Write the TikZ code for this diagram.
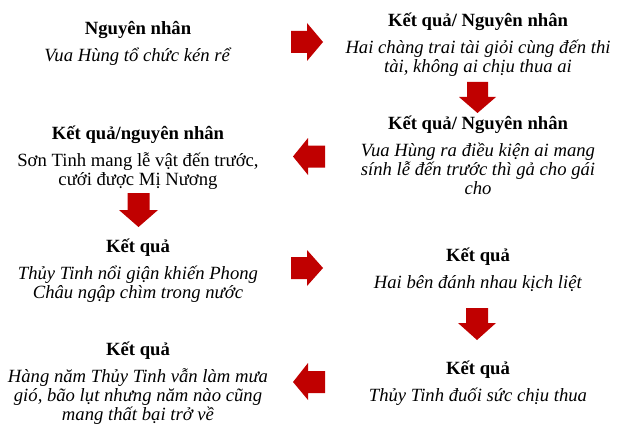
\documentclass[tikz,border=0pt]{standalone}
\usepackage{fontspec}
\setmainfont{Liberation Serif}
\definecolor{arrowred}{HTML}{C00000}
\tikzset{
  block/.style={align=center, inner sep=0pt, anchor=base,
    font=\fontsize{18.67}{19}\selectfont},
  blockarrow/.style={fill=arrowred, draw=none}
}
\newcommand{\gapline}{\\[8pt]}
\begin{document}
\begin{tikzpicture}[x=1pt,y=-1pt]
\useasboundingbox (0,0) rectangle (631,433);
% text blocks (anchor = baseline of the last line)
\node[block] (a) at (138,62) {\textbf{Nguyên nhân}\gapline\textit{Vua Hùng tổ chức kén rể}};
\node[block] (b) at (478,73) {\textbf{Kết quả/ Nguyên nhân}\gapline\textit{Hai chàng trai tài giỏi cùng đến thi}\\\textit{tài, không ai chịu thua ai}};
\node[block] (c) at (478,194) {\textbf{Kết quả/ Nguyên nhân}\gapline\textit{Vua Hùng ra điều kiện ai mang}\\\textit{sính lễ đến trước thì gả cho gái}\\\textit{cho}};
\node[block] (d) at (138,185) {\textbf{Kết quả/nguyên nhân}\gapline Sơn Tinh mang lễ vật đến trước,\\cưới được Mị Nương};
\node[block] (e) at (138,298) {\textbf{Kết quả}\gapline\textit{Thủy Tinh nổi giận khiến Phong}\\\textit{Châu ngập chìm trong nước}};
\node[block] (f) at (478,288) {\textbf{Kết quả}\gapline\textit{Hai bên đánh nhau kịch liệt}};
\node[block] (g) at (478,401) {\textbf{Kết quả}\gapline\textit{Thủy Tinh đuối sức chịu thua}};
\node[block] (h) at (138,420) {\textbf{Kết quả}\gapline\textit{Hàng năm Thủy Tinh vẫn làm mưa}\\\textit{gió, bão lụt nhưng năm nào cũng}\\\textit{mang thất bại trở về}};
% block arrows
% a -> b (right)
\fill[blockarrow] (291,31) -- (307,31) -- (307,23) -- (323,42) -- (307,61) -- (307,53) -- (291,53) -- cycle;
% b -> c (down)
\fill[blockarrow] (467,82) -- (488,82) -- (488,97) -- (496,97) -- (477.5,113) -- (459,97) -- (467,97) -- cycle;
% c -> d (left)
\fill[blockarrow] (325,145.5) -- (308,145.5) -- (308,138) -- (293,156.5) -- (308,175) -- (308,167.5) -- (325,167.5) -- cycle;
% d -> e (down)
\fill[blockarrow] (127.5,193) -- (149.5,193) -- (149.5,210) -- (158,210) -- (138.5,227) -- (119,210) -- (127.5,210) -- cycle;
% e -> f (right)
\fill[blockarrow] (291,257) -- (307,257) -- (307,250) -- (323,268) -- (307,286) -- (307,279) -- (291,279) -- cycle;
% f -> g (down)
\fill[blockarrow] (466,308) -- (488,308) -- (488,323) -- (496,323) -- (477,340) -- (458,323) -- (466,323) -- cycle;
% g -> h (left)
\fill[blockarrow] (325,371) -- (308,371) -- (308,363) -- (293,382) -- (308,400) -- (308,393) -- (325,393) -- cycle;
\end{tikzpicture}
\end{document}
